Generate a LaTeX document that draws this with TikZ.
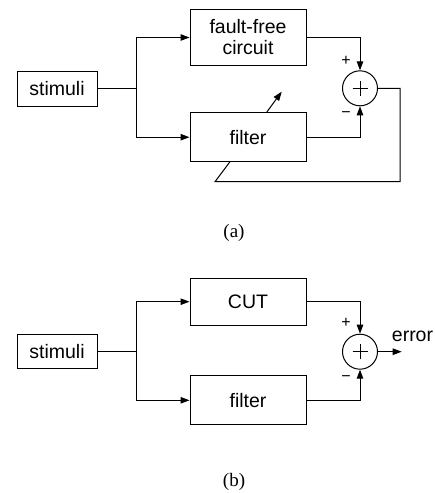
\documentclass[tikz,border=0pt]{standalone}
\usepackage{fontspec}
\setmainfont{Liberation Serif}
\setsansfont{Liberation Sans}
\usetikzlibrary{arrows.meta}
\begin{document}
\begin{tikzpicture}[x=1pt,y=-1pt,
  line width=1pt,
  blk/.style={draw,line width=1pt,inner sep=0pt,minimum width=116pt,align=center,
    font=\sffamily\fontsize{19.5}{21}\selectfont},
  stimbox/.style={blk,minimum width=80pt,minimum height=35pt},
  sumnode/.style={draw,circle,line width=1pt,minimum size=35pt,inner sep=0pt},
  sign/.style={font=\sffamily\fontsize{16}{16}\selectfont,inner sep=0pt},
  captext/.style={font=\fontsize{19}{21}\selectfont,inner sep=0pt},
  arr/.style={-{Triangle[length=9pt,width=6.5pt]}}
]
\useasboundingbox (0,0) rectangle (435,493);

% ---------- (a) ----------
\node[stimbox] (stimA) at (57,88.5) {stimuli};
\node[blk,minimum height=56pt] (ffc) at (248,37.5) {fault-free\\circuit};
\node[blk,minimum height=49pt] (filtA) at (248,137.2) {filter};
\node[sumnode] (sumA) at (360,88.3) {};
\draw[line width=0.6pt] ([xshift=-7.5pt]sumA.center) -- ([xshift=7.5pt]sumA.center)
  ([yshift=-7.5pt]sumA.center) -- ([yshift=7.5pt]sumA.center);
\coordinate (brA) at (136,88.5);
\draw (stimA.east) -- (brA);
\draw[arr] (brA) |- (ffc.west);
\draw[arr] (brA) |- (filtA.west);
\draw[arr] (ffc.east) -| (sumA.north);
\draw[arr] (filtA.east) -| (sumA.south);
\node[sign] (pA) at (346,61) {+};
\node[sign] (mA) at (346,115) {−};
\coordinate (fbA1) at (400,88.3);
\coordinate (fbA2) at (400,181.7);
\coordinate (fbA3) at (215,181.7);
\coordinate (fbA4) at (230,161.7);
\draw (sumA.east) -- (fbA1) -- (fbA2) -- (fbA3) -- (fbA4);
\coordinate (adjS) at (266.7,112.2);
\coordinate (adjE) at (281.7,91.7);
\draw[arr] (adjS) -- (adjE);
\node[captext] (capA) at (234,233) {(a)};

% ---------- (b) ----------
\node[stimbox,minimum height=34pt] (stimB) at (57,351.3) {stimuli};
\node[blk,minimum height=46.7pt] (cut) at (248,301.7) {CUT};
\node[blk,minimum height=49.3pt] (filtB) at (248,400.3) {filter};
\node[sumnode] (sumB) at (360,351.7) {};
\draw[line width=0.6pt] ([xshift=-7.5pt]sumB.center) -- ([xshift=7.5pt]sumB.center)
  ([yshift=-7.5pt]sumB.center) -- ([yshift=7.5pt]sumB.center);
\coordinate (brB) at (136,351.3);
\draw (stimB.east) -- (brB);
\draw[arr] (brB) |- (cut.west);
\draw[arr] (brB) |- (filtB.west);
\draw[arr] (cut.east) -| (sumB.north);
\draw[arr] (filtB.east) -| (sumB.south);
\node[sign] (pB) at (346,323.3) {+};
\node[sign] (mB) at (346,378.3) {−};
\coordinate (outB) at (401.7,351.7);
\draw[arr] (sumB.east) -- (outB);
\node[anchor=base,inner sep=0pt,font=\sffamily\fontsize{19.5}{21}\selectfont] (err) at (412.5,341.7) {error};
\node[captext] (capB) at (234,482) {(b)};
\end{tikzpicture}
\end{document}
